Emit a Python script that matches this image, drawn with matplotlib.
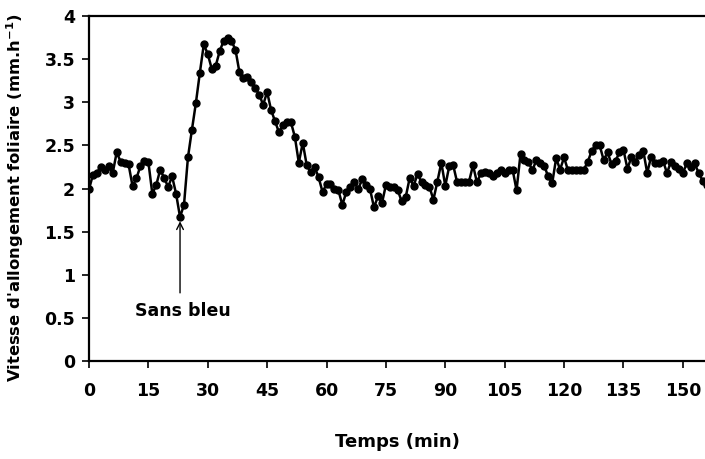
import numpy as np
import matplotlib
matplotlib.use("Agg")
import matplotlib.pyplot as plt

plt.rcParams['font.family'] = ['DejaVu Sans']

# Leaf elongation rate, one reading per minute
elongation = [
    1.99, 2.16, 2.18, 2.25, 2.21, 2.26, 2.18, 2.42, 2.31, 2.30,
    2.28, 2.03, 2.12, 2.26, 2.32, 2.31, 1.94, 2.04, 2.22, 2.12,
    2.02, 2.14, 1.94, 1.67, 1.81, 2.36, 2.68, 2.99, 3.34, 3.67,
    3.56, 3.39, 3.42, 3.59, 3.71, 3.74, 3.71, 3.61, 3.35, 3.28,
    3.29, 3.24, 3.16, 3.09, 2.97, 3.12, 2.91, 2.78, 2.65, 2.74,
    2.77, 2.77, 2.60, 2.30, 2.53, 2.27, 2.19, 2.25, 2.13, 1.96,
    2.05, 2.05, 1.99, 1.98, 1.81, 1.96, 2.02, 2.08, 1.99, 2.11,
    2.04, 1.99, 1.78, 1.91, 1.83, 2.04, 2.02, 2.02, 1.98, 1.85,
    1.90, 2.12, 2.03, 2.17, 2.07, 2.04, 2.02, 1.87, 2.08, 2.30,
    2.03, 2.26, 2.27, 2.07, 2.08, 2.07, 2.08, 2.27, 2.07, 2.18,
    2.19, 2.18, 2.14, 2.18, 2.22, 2.18, 2.22, 2.22, 1.98, 2.40,
    2.33, 2.31, 2.21, 2.33, 2.29, 2.26, 2.14, 2.06, 2.35, 2.22,
    2.36, 2.21, 2.22, 2.22, 2.21, 2.22, 2.31, 2.44, 2.50, 2.50,
    2.33, 2.42, 2.28, 2.32, 2.42, 2.45, 2.23, 2.36, 2.31, 2.39,
    2.44, 2.18, 2.37, 2.30, 2.29, 2.32, 2.18, 2.31, 2.26, 2.23,
    2.18, 2.29, 2.25, 2.29, 2.18, 2.09, 2.04,
]
minutes = np.arange(len(elongation))

x_ticks = [0, 15, 30, 45, 60, 75, 90, 105, 120, 135, 150]
y_ticks = [0, 0.5, 1, 1.5, 2, 2.5, 3, 3.5, 4]
y_tick_labels = ["0", "0.5", "1", "1.5", "2", "2.5", "3", "3.5", "4"]

# Moment the blue light is switched off
event_time = 23
event_value = elongation[event_time]

fig = plt.figure(figsize=(7.05, 4.59), dpi=100)
ax = fig.add_axes([0.1262, 0.2135, 0.8738, 0.7516])

ax.plot(minutes, elongation, color='black', linewidth=1.8,
        marker='o', markersize=5, markerfacecolor='black',
        markeredgecolor='black', clip_on=True)

ax.set_xlim(0, 155.6)
ax.set_ylim(0, 4)
ax.set_xticks(x_ticks)
ax.set_yticks(y_ticks)
ax.set_yticklabels(y_tick_labels)

for side in ('left', 'bottom', 'top'):
    ax.spines[side].set_linewidth(1.6)
    ax.spines[side].set_color('black')
ax.spines['right'].set_visible(False)

ax.tick_params(axis='both', direction='out', length=5, width=1.2,
               labelsize=12.5, pad=5)
ax.tick_params(axis='x', pad=10)
for lbl in ax.get_xticklabels() + ax.get_yticklabels():
    lbl.set_fontweight('bold')

ax.set_xlabel("Temps (min)", fontsize=13, fontweight='bold', labelpad=24)
ax.set_ylabel("Vitesse d'allongement foliaire (mm.h$^{\\mathbf{-1}}$)",
              fontsize=11.8, fontweight='bold')
ax.yaxis.set_label_coords(-0.103, 0.472)

# Arrow pointing up at the dip, label centred just below it
ax.annotate("", xy=(event_time, event_value - 0.05),
            xytext=(event_time, 0.79),
            arrowprops=dict(arrowstyle='->', color='black', lw=1.0,
                            shrinkA=0, shrinkB=0, mutation_scale=12))
ax.text(event_time + 0.8, 0.58, "Sans bleu", ha='center', va='center',
        fontsize=12.5, fontweight='bold')

fig.savefig("out.png", dpi=100)
